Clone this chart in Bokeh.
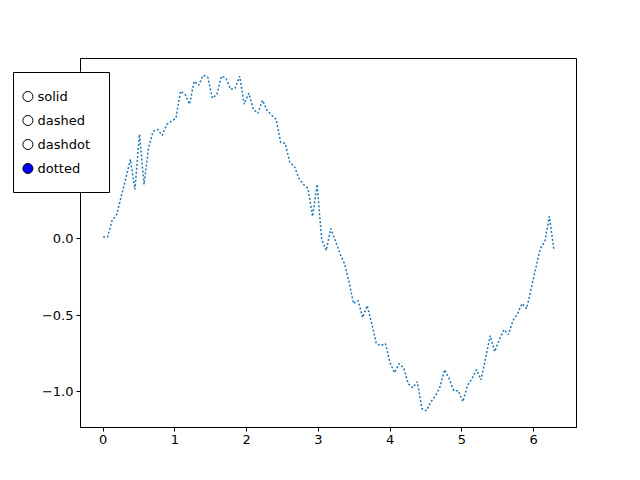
import numpy as np
from bokeh.plotting import figure
from bokeh.layouts import column
from bokeh.models import Range1d, FixedTicker
from bokeh.core.properties import value
from bokeh.embed import file_html
from bokeh.resources import INLINE

# Series values (100 evenly spaced samples over 0..2*pi)
y_vals = [0.01, 0.01, 0.118, 0.157, 0.275, 0.392, 0.516, 0.320, 0.680, 0.353,
          0.595, 0.699, 0.712, 0.673, 0.745, 0.765, 0.784, 0.961, 0.941, 0.876,
          1.026, 1.000, 1.065, 1.052, 0.915, 0.941, 1.059, 1.046, 0.974, 0.980,
          1.059, 0.876, 0.948, 0.843, 0.817, 0.902, 0.837, 0.804, 0.778, 0.627,
          0.621, 0.497, 0.471, 0.392, 0.353, 0.327, 0.144, 0.353, -0.007, -0.078,
          0.065, -0.013, -0.098, -0.163, -0.281, -0.425, -0.405, -0.516, -0.438, -0.556,
          -0.686, -0.699, -0.686, -0.810, -0.876, -0.817, -0.843, -0.948, -0.974, -0.935,
          -1.111, -1.124, -1.065, -1.026, -0.967, -0.856, -0.915, -0.993, -0.993, -1.065,
          -0.961, -0.915, -0.856, -0.922, -0.778, -0.634, -0.739, -0.660, -0.595, -0.627,
          -0.536, -0.490, -0.425, -0.458, -0.327, -0.196, -0.065, -0.020, 0.144, -0.078]
x_vals = np.linspace(0, 2 * np.pi, len(y_vals))

x_ticks = [0, 1, 2, 3, 4, 5, 6]
x_tick_labels = ["0", "1", "2", "3", "4", "5", "6"]
y_ticks = [-1.0, -0.5, 0.0, 0.5, 1.0]
y_tick_labels = ["\u22121.0", "\u22120.5", "0.0", "0.5", "1.0"]

radio_labels = ["solid", "dashed", "dashdot", "dotted"]
radio_selected = "dotted"

FONT = "DejaVu Sans"

x0, x1 = float(x_vals.min()), float(x_vals.max())
y0, y1 = min(y_vals), max(y_vals)
mx = 0.05 * (x1 - x0)
my = 0.05 * (y1 - y0)

p = figure(width=632, height=472, output_backend="svg", toolbar_location=None,
           x_range=Range1d(x0 - mx, x1 + mx), y_range=Range1d(y0 - my, y1 + my),
           min_border_left=80, min_border_right=56, min_border_top=58, min_border_bottom=45,
           frame_align=False)
p.xgrid.visible = False
p.ygrid.visible = False
p.outline_line_color = "black"
p.outline_line_width = 1
p.background_fill_color = "white"
p.border_fill_color = "white"

for ax in (p.xaxis[0], p.yaxis[0]):
    ax.axis_line_color = "black"
    ax.major_tick_in = 0
    ax.major_tick_out = 4
    ax.minor_tick_line_color = None
    ax.major_label_text_font = FONT
    ax.major_label_text_font_size = "13px"
    ax.major_label_text_color = "black"
    ax.major_label_standoff = 3

p.xaxis.ticker = FixedTicker(ticks=x_ticks)
p.yaxis.ticker = FixedTicker(ticks=y_ticks)
p.xaxis.major_label_overrides = {t: l for t, l in zip(x_ticks, x_tick_labels)}
p.yaxis.major_label_overrides = {t: l for t, l in zip(y_ticks, y_tick_labels)}

p.line(x_vals, y_vals, line_color="#1f77b4", line_width=1.5, line_dash="2 2")

# Radio-button panel: a small figure overlapping the main one (axes fraction coordinates)
n = len(radio_labels)
radio_y = [1 - (i + 1) / (n + 1) for i in range(n)]
radio_fill = ["#0000ff" if lab == radio_selected else "white" for lab in radio_labels]

panel = figure(frame_width=96, frame_height=120, output_backend="svg", toolbar_location=None,
               x_range=Range1d(0, 1), y_range=Range1d(0, 1),
               x_axis_type=None, y_axis_type=None, title=None,
               min_border_left=1, min_border_right=1, min_border_top=1, min_border_bottom=1,
               margin=(71 - 472, 0, 0, 12), frame_align=False)
panel.xgrid.visible = False
panel.ygrid.visible = False
panel.outline_line_color = "black"
panel.outline_line_width = 1
panel.background_fill_color = "white"
panel.border_fill_color = "white"
panel.scatter([0.15] * n, radio_y, size=10, marker="circle",
              fill_color=radio_fill, line_color="black", line_width=1)
panel.text([0.25] * n, radio_y, text=radio_labels, text_font=value(FONT),
           text_font_size="13px", text_color="black",
           text_baseline="middle", text_align="left")

layout = column(p, panel, spacing=0)

open("out.html", "w").write(file_html(layout, INLINE))
